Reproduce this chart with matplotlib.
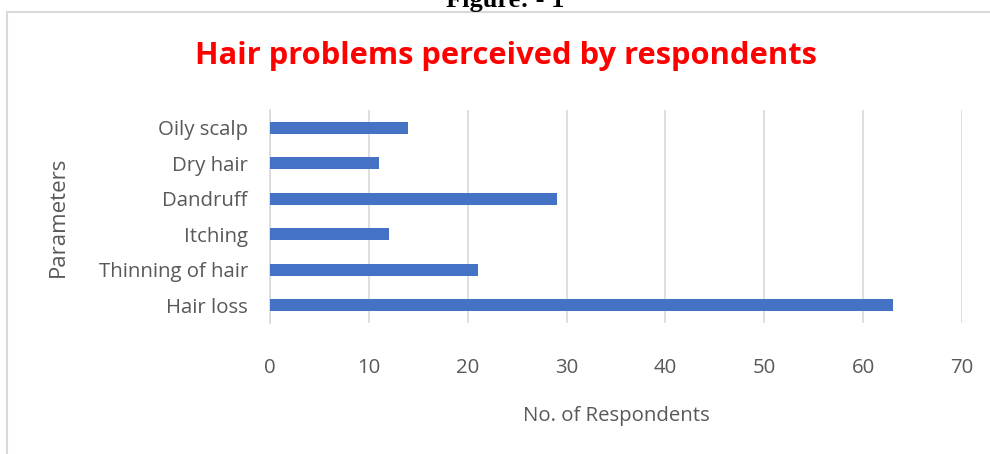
import matplotlib.pyplot as plt
from matplotlib.patches import Rectangle

categories = ['Hair loss', 'Thinning of hair', 'Itching', 'Dandruff', 'Dry hair', 'Oily scalp']
respondents = [63, 21, 12, 29, 11, 14]
xticks = [0, 10, 20, 30, 40, 50, 60, 70]

plt.rcParams['font.family'] = ['Open Sans', 'DejaVu Sans']

fig = plt.figure(figsize=(9.9, 4.54), dpi=100)

# outer chart border (only top and left visible in reference)
fig.add_artist(Rectangle((7 / 990, -0.1), 1.2, 1 - 12 / 454 + 0.1, transform=fig.transFigure,
                         fill=False, edgecolor='#d9d9d9', linewidth=1.5))

fig.text(505 / 990, 1 - 7 / 454, 'Figure: - 1', ha='center', va='baseline',
         family='Liberation Serif', fontweight='bold', fontsize=19, color='black')

ax = fig.add_axes([270 / 990, 1 - 323 / 454, (962 - 270) / 990, (323 - 110) / 454])
ax.barh(range(len(categories)), respondents, height=0.34, color='#4472C4', zorder=3)
ax.set_xlim(0, 70)
ax.set_ylim(-0.5, len(categories) - 0.5)
ax.set_xticks(xticks)
ax.set_yticks(range(len(categories)))
ax.set_yticklabels(categories)
ax.grid(axis='x', color='#d9d9d9', linewidth=1.2, zorder=0)
for s in ['top', 'right', 'bottom']:
    ax.spines[s].set_visible(False)
ax.spines['left'].set_color('#d9d9d9')
ax.spines['left'].set_linewidth(1.2)
ax.tick_params(axis='both', length=0, labelsize=14.7, labelcolor='#595959')
ax.tick_params(axis='x', pad=25)
ax.tick_params(axis='y', pad=16)

ax.set_xlabel('No. of Respondents', fontsize=14.7, color='#595959', labelpad=20)
fig.text(58 / 990, 1 - 217 / 454, 'Parameters', rotation=90, ha='center', va='center',
         fontsize=16, color='#595959')

fig.text(506 / 990, 1 - 56 / 454, 'Hair problems perceived by respondents', ha='center',
         va='center', fontsize=22.2, fontweight='bold', color='#FF0000')

fig.savefig('out.png', dpi=100)
